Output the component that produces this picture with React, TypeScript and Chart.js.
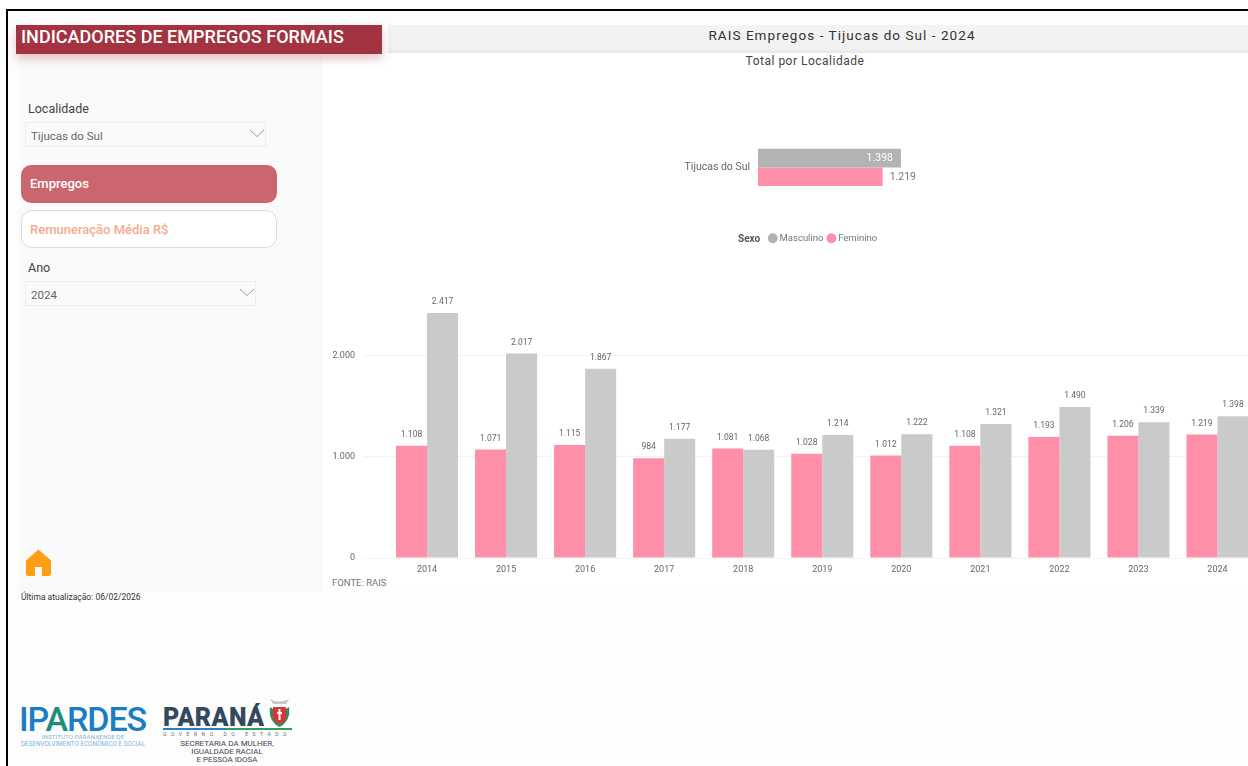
import React, { useEffect, useRef } from "react";
import { Chart, registerables } from "chart.js";

Chart.register(...registerables);

const years = ["2014", "2015", "2016", "2017", "2018", "2019", "2020", "2021", "2022", "2023", "2024"];
const feminino = [1108, 1071, 1115, 984, 1081, 1028, 1012, 1108, 1193, 1206, 1219];
const masculino = [2417, 2017, 1867, 1177, 1068, 1214, 1222, 1321, 1490, 1339, 1398];
const localidades = ["Tijucas do Sul"];
const totalMasculino = [1398];
const totalFeminino = [1219];
const yTicks = [0, 1000, 2000];

const FONT = "Roboto, 'Noto Sans', sans-serif";
const PINK = "#ff8fa8";
const GRAY_MAIN = "#cacaca";
const GRAY_TOTAL = "#b3b3b3";

const fmt = (v: number) => String(v).replace(/\B(?=(\d{3})+$)/g, ".");

const columnLabels = {
  id: "columnLabels",
  afterDatasetsDraw(chart: any) {
    const ctx = chart.ctx;
    ctx.save();
    ctx.font = `8.5px ${FONT}`;
    ctx.fillStyle = "#666";
    ctx.textAlign = "center";
    ctx.textBaseline = "middle";
    chart.data.datasets.forEach((ds: any, i: number) => {
      chart.getDatasetMeta(i).data.forEach((el: any, j: number) => {
        ctx.fillText(fmt(ds.data[j]), el.x, el.y - 11);
      });
    });
    ctx.restore();
  },
};

const barLabels = {
  id: "barLabels",
  afterDatasetsDraw(chart: any) {
    const ctx = chart.ctx;
    ctx.save();
    ctx.font = `10.5px ${FONT}`;
    ctx.textBaseline = "middle";
    chart.data.datasets.forEach((ds: any, i: number) => {
      chart.getDatasetMeta(i).data.forEach((el: any, j: number) => {
        const inside = i === 0;
        ctx.textAlign = inside ? "right" : "left";
        ctx.fillStyle = inside ? "#ffffff" : "#777";
        ctx.fillText(fmt(ds.data[j]), inside ? el.x - 8 : el.x + 7, el.y + (inside ? 0 : 0.5));
      });
    });
    ctx.restore();
  },
};

function MainChart() {
  const ref = useRef<HTMLCanvasElement>(null);
  useEffect(() => {
    const chart = new Chart(ref.current!, {
      type: "bar",
      data: {
        labels: years,
        datasets: [
          { label: "Feminino", data: feminino, backgroundColor: PINK, categoryPercentage: 0.785, barPercentage: 1 },
          { label: "Masculino", data: masculino, backgroundColor: GRAY_MAIN, categoryPercentage: 0.785, barPercentage: 1 },
        ],
      },
      options: {
        animation: false,
        responsive: false,
        layout: { padding: { top: 24.6, left: 0, right: 0, bottom: 0 } },
        plugins: { legend: { display: false }, tooltip: { enabled: false } },
        scales: {
          x: {
            grid: { display: false, drawTicks: false },
            border: { display: false },
            ticks: { color: "#666", font: { family: FONT, size: 9 }, padding: 6, maxRotation: 0, autoSkip: false },
            afterFit: (s: any) => { s.height = 32; },
          },
          y: {
            min: 0,
            max: 2500,
            afterBuildTicks: (s: any) => { s.ticks = yTicks.map((value) => ({ value })); },
            grid: { color: "#f3f3f3", tickLength: 24.5, tickColor: "#f3f3f3" },
            border: { display: false },
            ticks: { color: "#666", font: { family: FONT, size: 9 }, padding: 8, callback: (v: any) => fmt(v) },
            afterFit: (s: any) => { s.width = 67.5; },
          },
        },
      },
      plugins: [columnLabels],
    } as any);
    return () => chart.destroy();
  }, []);
  return <canvas ref={ref} width={937} height={310} style={{ position: "absolute", left: 320, top: 280, width: 937, height: 310 }} />;
}

function TotalChart() {
  const ref = useRef<HTMLCanvasElement>(null);
  useEffect(() => {
    const chart = new Chart(ref.current!, {
      type: "bar",
      data: {
        labels: localidades,
        datasets: [
          { label: "Masculino", data: totalMasculino, backgroundColor: GRAY_TOTAL, categoryPercentage: 0.887, barPercentage: 1 },
          { label: "Feminino", data: totalFeminino, backgroundColor: PINK, categoryPercentage: 0.887, barPercentage: 1 },
        ],
      },
      options: {
        indexAxis: "y",
        animation: false,
        responsive: false,
        plugins: {
          tooltip: { enabled: false },
          legend: {
            position: "bottom",
            labels: { usePointStyle: true, pointStyle: "circle", boxWidth: 4, boxHeight: 7, color: "#777", font: { family: FONT, size: 9.5 }, padding: 6 },
          },
        },
        scales: {
          x: {
            min: 0,
            max: 2445,
            grid: { display: false },
            border: { display: false },
            ticks: { display: false },
            afterFit: (s: any) => { s.height = 39; },
          },
          y: {
            grid: { display: false },
            border: { display: false },
            ticks: { color: "#666", font: { family: FONT, size: 10.5 }, padding: 0 },
            afterFit: (s: any) => { s.width = 118; },
          },
        },
      },
      plugins: [barLabels],
    } as any);
    return () => chart.destroy();
  }, []);
  return <canvas ref={ref} width={368} height={113} style={{ position: "absolute", left: 640, top: 140, width: 368, height: 113 }} />;
}

function T({ x, y, size, color, weight, spacing, align, children }: any) {
  const style: any = {
    position: "absolute",
    top: y,
    left: x,
    whiteSpace: "nowrap",
    fontFamily: FONT,
    fontSize: size,
    lineHeight: 1,
    color,
    fontWeight: weight || 400,
    letterSpacing: spacing || 0,
    transform: align === "center" ? "translate(-50%,-50%)" : "translateY(-50%)",
  };
  return <div style={style}>{children}</div>;
}

function Box({ x, y, w, h, style }: any) {
  return <div style={{ position: "absolute", left: x, top: y, width: w, height: h, boxSizing: "border-box", ...style }} />;
}

function Chevron({ x, y }: any) {
  return (
    <svg style={{ position: "absolute", left: x, top: y }} width="16" height="9" viewBox="0 0 16 9">
      <path d="M1 1 L8 7.5 L15 1" fill="none" stroke="#999" strokeWidth="1" />
    </svg>
  );
}

export default function App() {
  return (
    <div style={{ position: "absolute", left: 0, top: 0, width: 1248, height: 766, overflow: "hidden", background: "#ffffff" }}>
      <div style={{ position: "absolute", left: 0, top: 0, width: 1248, height: 766, filter: "blur(0.45px)" }}>
        <Box x={7} y={10} w={1241} h={756} style={{ background: "#fdfdfd" }} />
        <Box x={19} y={54} w={304} h={538} style={{ background: "#fafafa" }} />
        <Box x={323} y={54} w={925} h={537} style={{ background: "#ffffff" }} />
        <Box x={388} y={25} w={860} h={28} style={{ background: "linear-gradient(#f4f4f4,#f1f1f1 85%,#e6e6e6)" }} />
        <Box x={16} y={25} w={366} h={29} style={{ background: "#a33340", boxShadow: "0 5px 9px rgba(163,51,64,0.28)" }} />
        <T x={21} y={37} size={18} color="#fff" weight={500} spacing={0.02}>INDICADORES DE EMPREGOS FORMAIS</T>
        <T x={842} y={35.5} size={13.5} color="#333" spacing={1.05} align="center">RAIS Empregos - Tijucas do Sul - 2024</T>
        <T x={805} y={61} size={12} color="#444" spacing={0.5} align="center">Total por Localidade</T>

        <T x={28} y={108.5} size={12.5} color="#444">Localidade</T>
        <Box x={25} y={122} w={241} h={25} style={{ border: "1px solid #eeeeee" }} />
        <T x={31} y={136.5} size={11.5} color="#666">Tijucas do Sul</T>
        <Chevron x={249} y={129} />

        <Box x={21} y={165} w={256} h={38} style={{ background: "#cc666e", borderRadius: 10 }} />
        <T x={30} y={183} size={13} color="#fff" weight={500}>Empregos</T>
        <Box x={21} y={210} w={256} h={38} style={{ background: "#fff", border: "1px solid #dddddd", borderRadius: 11 }} />
        <T x={30} y={228.5} size={13} color="#f5ab8d" weight={500}>Remuneração Média R$</T>

        <T x={28} y={267.5} size={12.5} color="#444">Ano</T>
        <Box x={25} y={281} w={231} h={25} style={{ border: "1px solid #eeeeee" }} />
        <T x={31} y={295.5} size={11.5} color="#666">2024</T>
        <Chevron x={239} y={288} />

        <svg style={{ position: "absolute", left: 25, top: 549 }} width="27" height="28" viewBox="0 0 27 28">
          <path d="M13.5 0.5 L26 11.5 V25 Q26 27 24 27 H17 V18 H10 V27 H3 Q1 27 1 25 V11.5 Z" fill="#ff9d14" />
        </svg>
        <T x={21} y={597} size={8.5} color="#333">Última atualização: 06/02/2026</T>
        <T x={332} y={583} size={9.5} color="#777">FONTE: RAIS</T>

        <TotalChart />
        <T x={738} y={238.5} size={10} color="#555" weight={700}>Sexo</T>
        <MainChart />

        <T x={19} y={719} size={34} color="#1a7fc2" weight={500} spacing={-1.1}>IP<span style={{ color: "#1c8f7a" }}>A</span>RDES</T>
        <T x={83} y={737} size={6.2} color="#7fb6dd" spacing={0.1} align="center">INSTITUTO PARANAENSE DE</T>
        <T x={83} y={744} size={6.3} color="#7fb6dd" align="center">DESENVOLVIMENTO ECONÔMICO E SOCIAL</T>
        <T x={163} y={717} size={25} color="#34495e" weight={900} spacing={0.35}>PARANÁ</T>
        <Box x={163} y={728} w={62} h={2} style={{ background: "#2a7fc4" }} />
        <Box x={225} y={728} w={67} h={2} style={{ background: "#2f9e58" }} />
        <T x={227} y={734} size={5} color="#667" spacing={4.55} align="center">GOVERNO DO ESTADO</T>
        <T x={227} y={744} size={8} color="#445" align="center">SECRETARIA DA MULHER,</T>
        <T x={227} y={752} size={8} color="#445" align="center">IGUALDADE RACIAL</T>
        <T x={227} y={760} size={8} color="#445" align="center">E PESSOA IDOSA</T>
        <svg style={{ position: "absolute", left: 267, top: 697 }} width="25" height="32" viewBox="0 0 25 32">
          <path d="M3 2 Q12 7 22 2 L19 7 H6 Z" fill="#c5c9c5" />
          <path d="M3 10 Q1 24 12.5 30 Q24 24 22 10 L19 12 V20 L12.5 27 L6 20 V12 Z" fill="#2f8f52" />
          <path d="M6 10 H19 V20 Q19 25 12.5 27 Q6 25 6 20 Z" fill="#d8343c" />
          <path d="M12.5 12 V23 M10 16 H15" stroke="#fff" strokeWidth="2" />
        </svg>

        <Box x={6} y={9} w={1242} h={2} style={{ background: "#000" }} />
        <Box x={6} y={9} w={2} h={757} style={{ background: "#000" }} />
      </div>
    </div>
  );
}
